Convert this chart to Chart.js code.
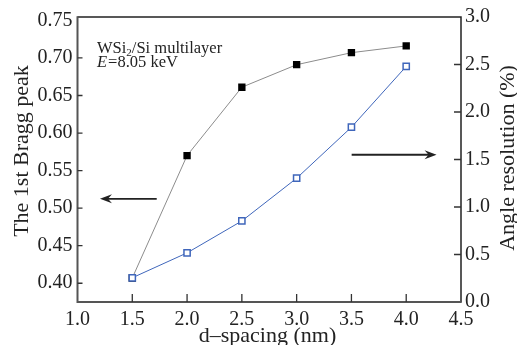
<!DOCTYPE html>
<html>
<head>
<meta charset="utf-8">
<script src="https://cdn.jsdelivr.net/npm/chart.js@4/dist/chart.umd.min.js"></script>
<style>
html,body{margin:0;padding:0;background:#fff;}
canvas{display:block;}
</style>
</head>
<body>
<canvas id="c" width="517" height="345"></canvas>
<script>
// ---- data ----
const dSpacing = [1.5, 2.0, 2.5, 3.0, 3.5, 4.0];
const braggPeak = [0.407, 0.570, 0.661, 0.691, 0.707, 0.716];
const angleResolution = [0.255, 0.517, 0.853, 1.303, 1.840, 2.480];
const xTicks = [1.0, 1.5, 2.0, 2.5, 3.0, 3.5, 4.0, 4.5];
const leftTicks = [0.40, 0.45, 0.50, 0.55, 0.60, 0.65, 0.70, 0.75];
const rightTicks = [0.0, 0.5, 1.0, 1.5, 2.0, 2.5, 3.0];
const xTitle = 'd\u2013spacing (nm)';
const leftTitle = 'The 1st Bragg peak';
const rightTitle = 'Angle resolution (%)';

const FONT = '"Liberation Serif", "Times New Roman", serif';
const tickFont = {family: FONT, size: 20};

const overlay = {
  id: 'overlay',
  afterDraw(chart) {
    const ctx = chart.ctx;
    const a = chart.chartArea;
    const sx = chart.scales.x, sy = chart.scales.y, sr = chart.scales.y1;
    ctx.save();
    // frame
    ctx.lineCap = 'butt';
    ctx.strokeStyle = '#222';
    ctx.lineWidth = 1.5;
    ctx.beginPath();
    ctx.moveTo(a.left, a.top); ctx.lineTo(a.right, a.top); ctx.lineTo(a.right, a.bottom);
    ctx.stroke();
    ctx.strokeStyle = '#555';
    ctx.lineWidth = 2;
    ctx.beginPath();
    ctx.moveTo(a.left, a.top - 0.75); ctx.lineTo(a.left, a.bottom); ctx.lineTo(a.right + 0.75, a.bottom);
    ctx.stroke();
    // inward ticks
    ctx.lineWidth = 1.3;
    ctx.strokeStyle = '#333';
    ctx.beginPath();
    xTicks.forEach(v => { if (v > 1.0 && v < 4.5) { const px = sx.getPixelForValue(v); ctx.moveTo(px, a.bottom); ctx.lineTo(px, a.bottom - 8); } });
    leftTicks.forEach(v => { if (v < 0.75) { const py = sy.getPixelForValue(v); ctx.moveTo(a.left, py); ctx.lineTo(a.left + 5, py); } });
    rightTicks.forEach(v => { if (v > 0 && v < 3.0) { const py = sr.getPixelForValue(v); ctx.moveTo(a.right, py); ctx.lineTo(a.right - 7, py); } });
    ctx.stroke();

    // axis titles
    ctx.fillStyle = '#222';
    ctx.font = '22px ' + FONT;
    ctx.textAlign = 'center';
    ctx.textBaseline = 'alphabetic';
    ctx.fillText(xTitle, 267.5, 342);
    ctx.save();
    ctx.translate(28, 151);
    ctx.rotate(-Math.PI / 2);
    ctx.fillText(leftTitle, 0, 0);
    ctx.restore();
    ctx.save();
    ctx.translate(514, 158);
    ctx.rotate(-Math.PI / 2);
    ctx.fillText(rightTitle, 0, 0);
    ctx.restore();

    // annotation text
    ctx.textAlign = 'left';
    let tx = sx.getPixelForValue(1.178);
    let ty = sy.getPixelForValue(0.706);
    ctx.font = '16.5px ' + FONT;
    ctx.fillText('WSi', tx, ty);
    let w = ctx.measureText('WSi').width;
    ctx.font = '11px ' + FONT;
    ctx.fillText('2', tx + w, ty + 3);
    w += ctx.measureText('2').width;
    ctx.font = '16.5px ' + FONT;
    ctx.fillText('/Si multilayer', tx + w, ty);
    ty = sy.getPixelForValue(0.688);
    ctx.font = 'italic 16.5px ' + FONT;
    ctx.fillText('E', tx, ty);
    w = ctx.measureText('E').width;
    ctx.font = '16.5px ' + FONT;
    ctx.fillText('=8.05 keV', tx + w + 1, ty);

    // arrows
    function arrow(x1, y1, x2, y2) {
      ctx.strokeStyle = '#222';
      ctx.fillStyle = '#222';
      ctx.lineWidth = 1.8;
      const dir = Math.sign(x2 - x1);
      ctx.beginPath();
      ctx.moveTo(x1, y1); ctx.lineTo(x2 - dir * 6, y2);
      ctx.stroke();
      ctx.beginPath();
      ctx.moveTo(x2, y2);
      ctx.lineTo(x2 - dir * 12, y2 - 4.5);
      ctx.lineTo(x2 - dir * 8, y2);
      ctx.lineTo(x2 - dir * 12, y2 + 4.5);
      ctx.closePath();
      ctx.fill();
    }
    const ly = sy.getPixelForValue(0.5124);
    arrow(sx.getPixelForValue(1.723), ly, sx.getPixelForValue(1.205), ly);
    const ry = sr.getPixelForValue(1.55);
    arrow(sx.getPixelForValue(3.502), ry, sx.getPixelForValue(4.277), ry);
    ctx.restore();
  }
};

new Chart(document.getElementById('c'), {
  type: 'line',
  data: {
    datasets: [
      {
        label: 'Angle resolution',
        data: dSpacing.map((x, i) => ({x: x, y: angleResolution[i]})),
        yAxisID: 'y1',
        borderColor: '#3f66bb',
        borderWidth: 1,
        pointStyle: 'rect',
        pointRadius: 4.4,
        pointBorderWidth: 1.5,
        pointBorderColor: '#3f66bb',
        pointBackgroundColor: '#ffffff',
        order: 0
      },
      {
        label: 'Bragg peak',
        data: dSpacing.map((x, i) => ({x: x, y: braggPeak[i]})),
        yAxisID: 'y',
        borderColor: '#8c8c8c',
        borderWidth: 1,
        pointStyle: 'rect',
        pointRadius: 5.2,
        pointBorderWidth: 0,
        pointBackgroundColor: '#000000',
        order: 1
      }
    ]
  },
  options: {
    responsive: false,
    animation: false,
    devicePixelRatio: 1,
    layout: {padding: {top: 16, left: 0, right: 0, bottom: 0}},
    plugins: {legend: {display: false}, tooltip: {enabled: false}},
    elements: {line: {tension: 0}},
    scales: {
      x: {
        type: 'linear', min: 1.0, max: 4.5,
        afterBuildTicks: s => { s.ticks = xTicks.map(v => ({value: v})); },
        afterFit: s => { s.height = 43; },
        grid: {display: false, drawTicks: false},
        border: {display: false},
        ticks: {font: tickFont, color: '#222', padding: 6, maxRotation: 0, autoSkip: false, callback: v => Number(v).toFixed(1)}
      },
      y: {
        type: 'linear', position: 'left', min: 0.375, max: 0.7545,
        afterBuildTicks: s => { s.ticks = leftTicks.map(v => ({value: v})); },
        afterFit: s => { s.width = 77.5; },
        grid: {display: false, drawTicks: false},
        border: {display: false},
        ticks: {font: tickFont, color: '#222', padding: 5, autoSkip: false, callback: v => Number(v).toFixed(2)}
      },
      y1: {
        type: 'linear', position: 'right', min: 0, max: 3.0,
        afterBuildTicks: s => { s.ticks = rightTicks.map(v => ({value: v})); },
        afterFit: s => { s.width = 56; },
        grid: {display: false, drawTicks: false},
        border: {display: false},
        ticks: {font: tickFont, color: '#222', padding: 4, autoSkip: false, callback: v => Number(v).toFixed(1)}
      }
    }
  },
  plugins: [overlay]
});
</script>
</body>
</html>
